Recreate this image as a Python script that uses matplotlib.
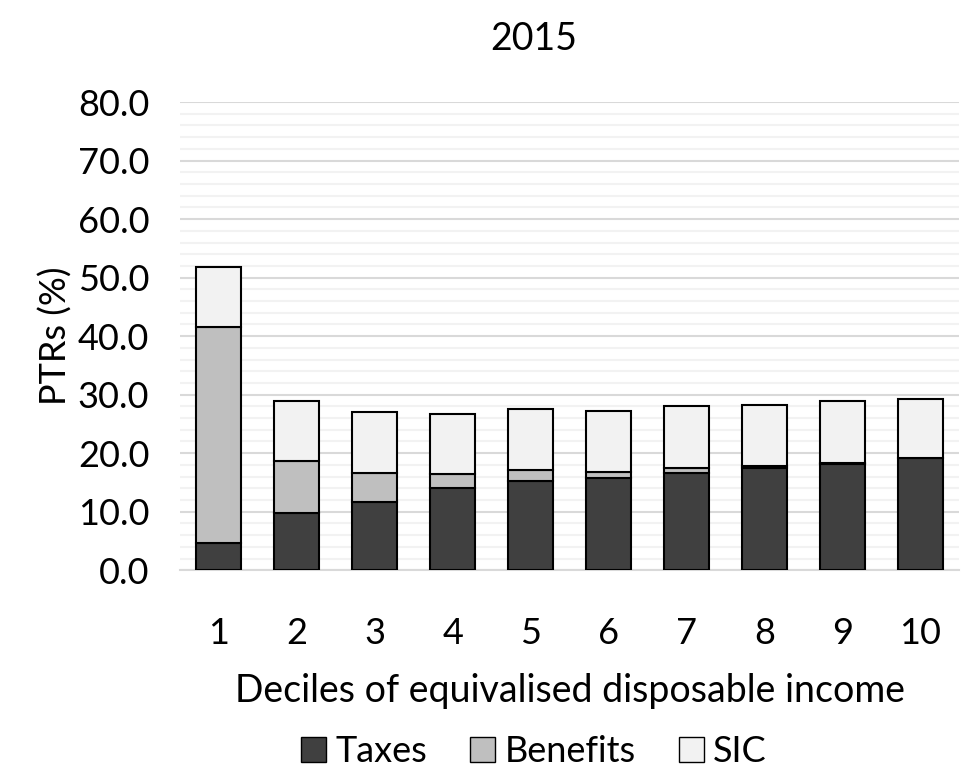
import matplotlib
matplotlib.use("Agg")
import matplotlib.pyplot as plt
from matplotlib.patches import Patch
import numpy as np

plt.rcParams['font.family'] = ['Lato', 'DejaVu Sans']

# data
deciles = ['1', '2', '3', '4', '5', '6', '7', '8', '9', '10']
taxes = [4.7, 9.8, 11.7, 14.0, 15.2, 15.8, 16.6, 17.4, 18.1, 19.1]
benefits = [36.8, 8.8, 4.9, 2.4, 1.9, 0.9, 0.9, 0.4, 0.3, 0.1]
sic = [10.3, 10.4, 10.4, 10.3, 10.4, 10.5, 10.5, 10.5, 10.5, 10.1]

x = np.arange(len(deciles))
taxes = np.array(taxes)
benefits = np.array(benefits)
sic = np.array(sic)

fs = 26

fig = plt.figure(figsize=(9.62, 7.79), dpi=100)
ax = fig.add_axes([0.187, 0.268, 0.81, 0.601])

w = 0.58
ax.bar(x, taxes, w, color='#404040', edgecolor='black', linewidth=1.5, zorder=3)
ax.bar(x, benefits, w, bottom=taxes, color='#bfbfbf', edgecolor='black', linewidth=1.5, zorder=3)
ax.bar(x, sic, w, bottom=taxes + benefits, color='#f2f2f2', edgecolor='black', linewidth=1.5, zorder=3)

ax.set_ylim(0, 80)
ax.set_xlim(-0.5, len(deciles) - 0.5)
ax.set_yticks(np.arange(0, 81, 10))
ax.set_yticks(np.arange(0, 81, 2), minor=True)
ax.set_yticklabels(['%.1f' % v for v in np.arange(0, 81, 10)])
ax.set_xticks(x)
ax.set_xticklabels(deciles)
ax.grid(axis='y', which='major', color='#d9d9d9', linewidth=1.5, zorder=0)
ax.grid(axis='y', which='minor', color='#f2f2f2', linewidth=1.5, zorder=0)
ax.tick_params(axis='both', which='both', length=0, labelsize=fs)
ax.tick_params(axis='x', pad=34)
ax.tick_params(axis='y', pad=22)
for s in ['top', 'right', 'left']:
    ax.spines[s].set_visible(False)
ax.spines['bottom'].set_color('#d9d9d9')
ax.spines['bottom'].set_linewidth(1.5)

ax.set_ylabel('PTRs (%)', fontsize=fs, labelpad=4)
ax.set_xlabel('Deciles of equivalised disposable income', fontsize=fs + 1, labelpad=16)
fig.text(0.555, 0.95, '2015', ha='center', va='center', fontsize=fs + 1)

handles = [Patch(facecolor='#404040', edgecolor='black', label='Taxes'),
           Patch(facecolor='#bfbfbf', edgecolor='black', label='Benefits'),
           Patch(facecolor='#f2f2f2', edgecolor='black', label='SIC')]
fig.legend(handles=handles, loc='center', bbox_to_anchor=(0.555, 0.035), ncol=3,
           frameon=False, fontsize=fs, handlelength=0.7, handleheight=0.7,
           handletextpad=0.25, columnspacing=1.2)

fig.savefig('out.png', dpi=100)
